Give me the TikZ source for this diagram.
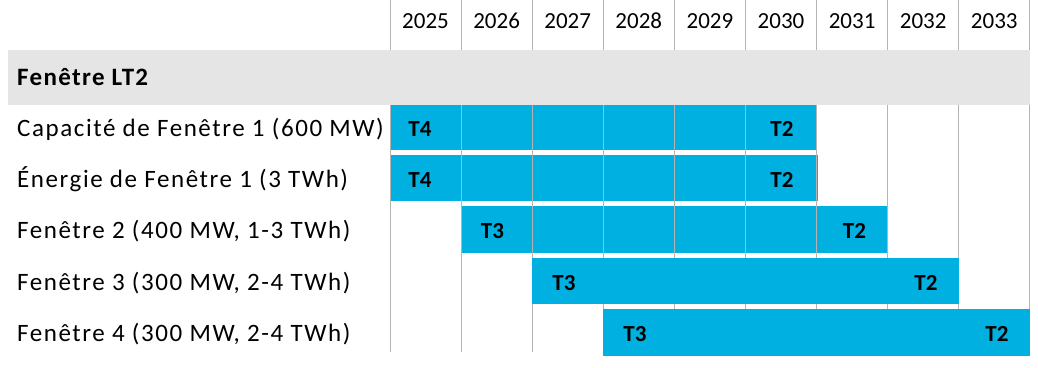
\documentclass[tikz,border=0pt]{standalone}
\usepackage{fontspec}
\setmainfont{Carlito}
\newfontfamily\lblfont[LetterSpace=6.3]{Carlito}
\newfontfamily\titlefont[LetterSpace=5.4]{Carlito}
\definecolor{barblue}{HTML}{00B0E0}
\definecolor{bandgrey}{HTML}{E5E5E5}
\definecolor{gridgrey}{HTML}{B4B4B4}
\tikzset{
  bar/.style={fill=barblue, draw=none, inner sep=0pt, outer sep=0pt, anchor=north west},
  gridline/.style={draw=gridgrey, line width=1pt},
  txt/.style={inner sep=0pt, font=\fontsize{23}{27}\selectfont, text=black},
  yr/.style={txt, anchor=base},
  lbl/.style={txt, anchor=base west, font=\lblfont\fontsize{25}{29}\selectfont},
  tag/.style={txt, anchor=base, font=\fontsize{23}{27}\selectfont\bfseries},
}
\begin{document}
\begin{tikzpicture}[x=1pt,y=-1pt]
\useasboundingbox (0,0) rectangle (1038,367);
% grey band
\node[fill=bandgrey, inner sep=0pt, outer sep=0pt, anchor=north west, minimum width=1022pt, minimum height=54.5pt] (band) at (8,50) {};
\node[lbl, font=\titlefont\fontsize{25}{29}\selectfont\bfseries] (title) at (17,85) {Fenêtre LT2};
% bars rows 1-3 (under grid lines)
\node[bar, minimum width=426.6pt, minimum height=45pt] (bar1) at (390,105) {};
\node[bar, minimum width=428pt, minimum height=46pt] (bar2) at (390,155) {};
\node[bar, minimum width=426.7pt, minimum height=47pt] (bar3) at (461.1,206) {};
% grid lines
\foreach \i in {0,...,9} {
  \draw[gridline] ({390+71.1*\i},0) -- ({390+71.1*\i},50);
  \draw[gridline] ({390+71.1*\i},104.5) -- ({390+71.1*\i},352);
}
% bars rows 4-5 (over grid lines)
\node[bar, minimum width=426.6pt, minimum height=46pt] (bar4) at (532.2,258) {};
\node[bar, minimum width=426.6pt, minimum height=47pt] (bar5) at (603.3,309) {};
% years
\foreach \y [count=\i from 0] in {2025,2026,2027,2028,2029,2030,2031,2032,2033} {
  \node[yr] (y\y) at ({425.5+71.1*\i},28) {\y};
}
% row labels
\node[lbl] (l1) at (17,136.5) {Capacité de Fenêtre 1 (600 MW)};
\node[lbl] (l2) at (17,187) {Énergie de Fenêtre 1 (3 TWh)};
\node[lbl] (l3) at (17,238.5) {Fenêtre 2 (400 MW, 1-3 TWh)};
\node[lbl] (l4) at (17,290) {Fenêtre 3 (300 MW, 2-4 TWh)};
\node[lbl] (l5) at (17,341.5) {Fenêtre 4 (300 MW, 2-4 TWh)};
% tags
\node[tag] (t1a) at (420,136.5) {T4};
\node[tag] (t1b) at (782,136.5) {T2};
\node[tag] (t2a) at (420,187) {T4};
\node[tag] (t2b) at (782,187) {T2};
\node[tag] (t3a) at (492.5,238.5) {T3};
\node[tag] (t3b) at (854.5,238.5) {T2};
\node[tag] (t4a) at (564,290) {T3};
\node[tag] (t4b) at (926,290) {T2};
\node[tag] (t5a) at (635,341.5) {T3};
\node[tag] (t5b) at (997,341.5) {T2};
\end{tikzpicture}
\end{document}
